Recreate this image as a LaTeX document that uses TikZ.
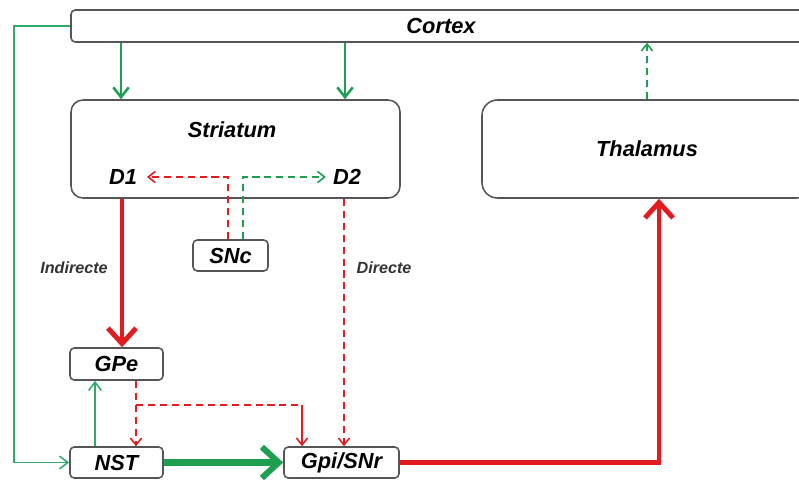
\documentclass[tikz,border=0pt]{standalone}
\usepackage{fontspec}
\setmainfont{Liberation Sans}
\usetikzlibrary{arrows.meta}

\definecolor{pathred}{HTML}{E31B1F}
\definecolor{pathgreen}{HTML}{1E9E50}
\definecolor{thingreen}{HTML}{2FAA6C}
\definecolor{boxline}{HTML}{555555}

\tikzset{
  region/.style={draw=boxline, line width=1.1pt, fill=white, rounded corners=3pt,
    inner sep=0pt, font=\fontsize{15.5}{18}\selectfont\bfseries\itshape},
  bigregion/.style={region, rounded corners=8.5pt},
  lbl/.style={inner sep=0pt, font=\fontsize{15.5}{18}\selectfont\bfseries\itshape},
  smalllbl/.style={inner sep=0pt, font=\fontsize{11.5}{14}\selectfont\bfseries\itshape, text=black!80},
  thinlink/.style={draw=thingreen, line width=1.1pt, -{Straight Barb[length=6pt,width=9pt]}},
  cortexlink/.style={draw=pathgreen, line width=1.8pt, -{Straight Barb[length=7pt,width=11pt]}},
  dashedred/.style={draw=pathred, line width=1.1pt, dash pattern=on 5pt off 3.5pt,
    -{Straight Barb[length=5pt,width=8pt]}},
  dashedgreen/.style={draw=pathgreen, line width=1.1pt, dash pattern=on 5pt off 3.5pt,
    -{Straight Barb[length=5pt,width=8pt]}},
  thickred/.style={draw=pathred, line width=3.5pt, -{Straight Barb[length=11pt,width=20pt]}},
  thickgreen/.style={draw=pathgreen, line width=4.3pt, -{Straight Barb[length=12pt,width=22pt]}},
}

\begin{document}
\begin{tikzpicture}[x=0.025cm, y=-0.025cm]
\useasboundingbox (0,0) rectangle (799,479);
\clip (0,0) rectangle (799,479);

% boxes
\node[region, minimum width=740*0.025cm, minimum height=32*0.025cm] (cortex) at (441,26) {Cortex};
\node[bigregion, minimum width=329*0.025cm, minimum height=98*0.025cm] (striatum) at (235.5,149) {};
\node[lbl] (striatumlbl) at (232,130) {Striatum};
\node[lbl] (d1) at (123,177) {D1};
\node[lbl] (d2) at (347,177) {D2};
\node[bigregion, rounded corners=11pt, minimum width=330*0.025cm, minimum height=98*0.025cm] (thalamus) at (647,149) {Thalamus};
\node[region, minimum width=75*0.025cm, minimum height=31*0.025cm] (snc) at (230.5,255.5) {SNc};
\node[region, minimum width=93*0.025cm, minimum height=32*0.025cm] (gpe) at (116.5,364) {GPe};
\node[region, minimum width=93*0.025cm, minimum height=31*0.025cm] (nst) at (116.5,462.5) {NST};
\node[region, minimum width=115*0.025cm, minimum height=31*0.025cm] (gpi) at (341.5,462.5) {Gpi/SNr};

\node[smalllbl] (indirecte) at (74,268) {Indirecte};
\node[smalllbl] (directe) at (384,268) {Directe};

% helper coordinates
\coordinate (leftrail) at (14,26);
\coordinate (gpebranch) at (136,405);
\coordinate (gpidrop) at (302,405);
\coordinate (thalturn) at (659,0);

% cortex feedback to the subthalamic nucleus
\draw[thinlink] (cortex.west) -- (leftrail) |- (nst.west);

% cortical input to the striatum
\draw[cortexlink] (cortex.south -| 121,0) -- (striatum.north -| 121,0);
\draw[cortexlink] (cortex.south -| 345,0) -- (striatum.north -| 345,0);

% thalamic return to cortex
\draw[dashedgreen] (thalamus.north -| 647,0) -- (cortex.south -| 647,0);

% dopaminergic projections from SNc
\draw[dashedred, shorten >=7pt] (snc.north -| 228,0) |- (d1.east);
\draw[dashedgreen, shorten >=5pt] (snc.north -| 243,0) |- (d2.west);

% striatal outputs
\draw[thickred] (striatum.south -| 122,0) -- (gpe.north -| 122,0);
\draw[dashedred] (striatum.south -| 344,0) -- (gpi.north -| 344,0);

% pallidal / subthalamic loop
\draw[thinlink] (nst.north -| 95,0) -- (gpe.south -| 95,0);
\draw[dashedred] (gpe.south -| 136,0) -- (nst.north -| 136,0);
\draw[draw=pathred, line width=1.1pt, dash pattern=on 5pt off 3.5pt] (gpebranch) -- (gpidrop);
\draw[draw=pathred, line width=1.1pt, -{Straight Barb[length=5pt,width=8pt]}] (gpidrop) -- (gpi.north -| gpidrop);

% main output stages
\draw[thickgreen] (nst.east) -- (gpi.west);
\draw[thickred] (gpi.east) -| (thalamus.south -| thalturn);
\end{tikzpicture}
\end{document}
